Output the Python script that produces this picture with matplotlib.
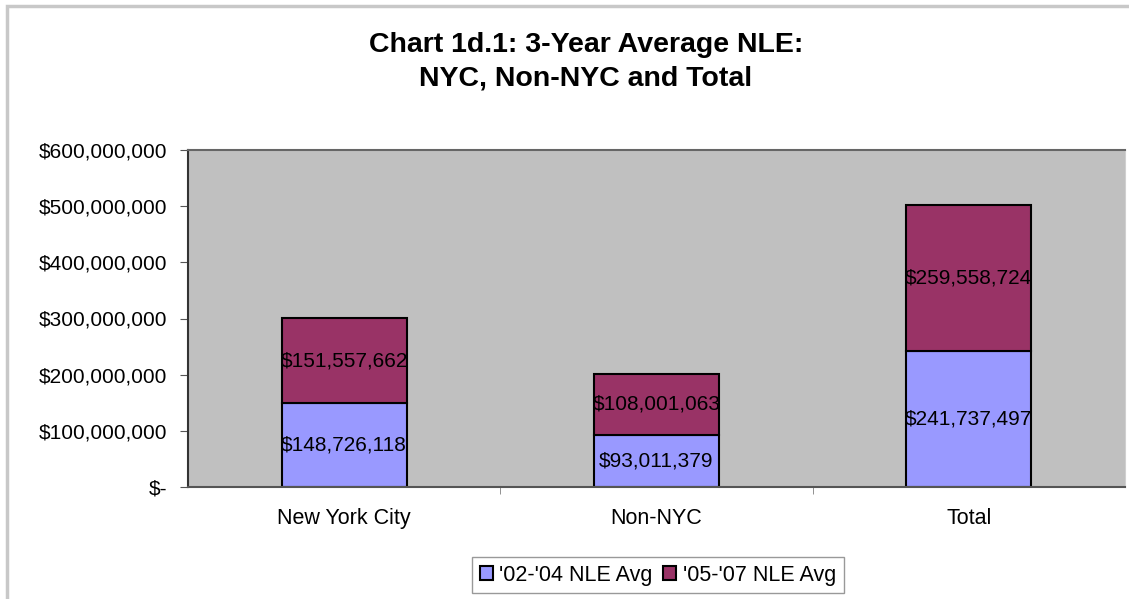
import matplotlib.pyplot as plt
import matplotlib.patches as mpatches
import numpy as np

categories = ['New York City', 'Non-NYC', 'Total']
avg_02_04 = [148726118, 93011379, 241737497]
avg_05_07 = [151557662, 108001063, 259558724]
series_names = ["'02-'04 NLE Avg", "'05-'07 NLE Avg"]
y_ticks = [0, 100000000, 200000000, 300000000, 400000000, 500000000, 600000000]

plt.rcParams['font.family'] = ['Liberation Sans', 'DejaVu Sans']

fig = plt.figure(figsize=(11.29, 5.99), dpi=100)
fig.patches.append(mpatches.Rectangle((0.006, -0.05), 1.2, 1.04, transform=fig.transFigure,
                                      fill=False, edgecolor='#c8c8c8', linewidth=2.5))
ax = fig.add_axes([188 / 1129, 1 - 487 / 599, 937 / 1129, 337 / 599])
ax.set_facecolor('#c0c0c0')

x = np.arange(len(categories))
width = 0.4
b1 = ax.bar(x, avg_02_04, width, color='#9999ff', edgecolor='black', linewidth=1.5,
            label=series_names[0])
b2 = ax.bar(x, avg_05_07, width, bottom=avg_02_04, color='#993366', edgecolor='black',
            linewidth=1.5, label=series_names[1])

for i in range(len(categories)):
    ax.text(x[i], avg_02_04[i] / 2, f"${avg_02_04[i]:,}", ha='center', va='center', fontsize=15)
    ax.text(x[i], avg_02_04[i] + avg_05_07[i] / 2, f"${avg_05_07[i]:,}", ha='center',
            va='center', fontsize=15)

ax.set_xlim(-0.5, 2.5)
ax.set_ylim(0, 600000000)
ax.set_yticks(y_ticks)
ax.set_yticklabels(['$-'] + [f"${v:,}" for v in y_ticks[1:]], fontsize=15)
ax.set_xticks(x)
ax.set_xticklabels(categories, fontsize=15.5)
ax.tick_params(axis='x', length=0, pad=15)
ax.set_xticks([0.5, 1.5], minor=True)
ax.tick_params(axis='x', which='minor', length=5, color='#808080')
ax.tick_params(axis='y', length=6, color='#555555', pad=9)

ax.spines['left'].set_color('#333333')
ax.spines['left'].set_linewidth(1.5)
ax.spines['bottom'].set_color('#555555')
ax.spines['bottom'].set_linewidth(1.5)
ax.spines['top'].set_color('#666666')
ax.spines['top'].set_linewidth(1.5)
ax.spines['right'].set_color('#d0d0d0')

fig.text(586 / 1129, 1 - 62 / 599, 'Chart 1d.1: 3-Year Average NLE:\nNYC, Non-NYC and Total',
         ha='center', va='center', fontsize=20.5, fontweight='bold', linespacing=1.4)

leg = fig.legend(loc='center', bbox_to_anchor=(658 / 1129, 1 - 575 / 599), ncol=2, fontsize=15.5,
                 frameon=True, fancybox=False, edgecolor='#808080', handlelength=0.6,
                 handleheight=0.6, handletextpad=0.3, columnspacing=0.5, borderpad=0.35)
leg.get_frame().set_linewidth(1)

fig.savefig('out.png', dpi=100)
